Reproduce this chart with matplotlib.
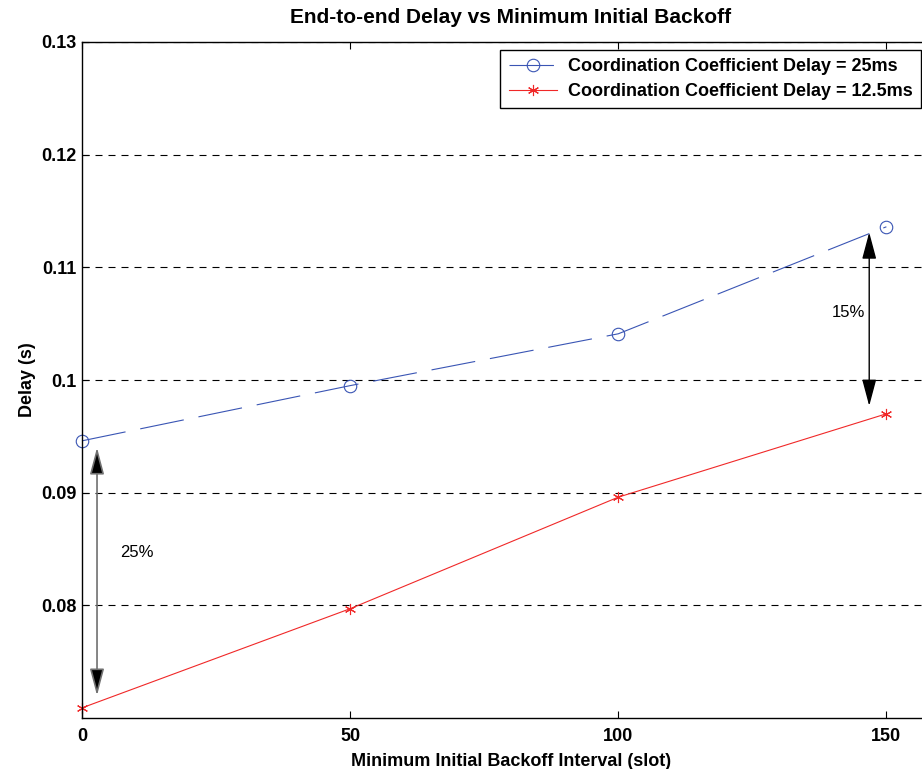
import numpy as np
import matplotlib
matplotlib.use("Agg")
from matplotlib import pyplot as plt

plt.rcParams['font.family'] = ['Liberation Sans', 'DejaVu Sans']

# data
backoff = [0, 50, 100, 150]
delay_25 = [0.0946, 0.0995, 0.1041, 0.1136]
delay_125 = [0.0709, 0.0797, 0.0896, 0.0970]

label_25 = 'Coordination Coefficient Delay = 25ms'
label_125 = 'Coordination Coefficient Delay = 12.5ms'

fig = plt.figure(figsize=(9.22, 7.69), dpi=100)
# axes runs a bit past the right edge, like the cropped original
ax = fig.add_axes([82/922, 51/769, (940-82)/922, (718-42)/769])

ax.plot(backoff, delay_25, color='#3a55b4', lw=0.8, dashes=(40, 13.5),
        marker='o', ms=9, mfc='none', mec='#3a55b4', mew=0.8,
        clip_on=False, label=label_25)
ax.plot(backoff, delay_125, color='#f02828', lw=0.8,
        marker=(6, 2, 0), ms=8, mec='#f02828', mew=0.8,
        clip_on=False, label=label_125)

ax.set_xlim(0, 160)
ax.set_ylim(0.07, 0.13)
ax.set_xticks([0, 50, 100, 150])
ax.set_yticks([0.08, 0.09, 0.1, 0.11, 0.12, 0.13])
ax.set_yticklabels(['0.08', '0.09', '0.1', '0.11', '0.12', '0.13'])
ax.tick_params(direction='in', top=True, right=True, length=5, width=0.8,
               labelsize=13)
ax.tick_params(axis='x', pad=7)
ax.tick_params(axis='y', pad=4)
for lab in ax.get_xticklabels() + ax.get_yticklabels():
    lab.set_fontweight('bold')
for s in ax.spines.values():
    s.set_linewidth(1.0)

ax.yaxis.grid(True, color='black', lw=0.8, dashes=(6.3, 5.4))
ax.set_axisbelow(True)

ax.set_title('End-to-end Delay vs Minimum Initial Backoff', fontsize=15,
             fontweight='bold', pad=14)
ax.set_xlabel('Minimum Initial Backoff Interval (slot)', fontsize=13,
              fontweight='bold', labelpad=6)
ax.set_ylabel('Delay (s)', fontsize=13, fontweight='bold', labelpad=4)

# difference arrows
ax.annotate('', xy=(2.8, 0.0720), xytext=(2.8, 0.0940),
            arrowprops=dict(arrowstyle='<|-|>,head_length=0.75,head_width=0.2',
                            fc='black', ec='#707070', lw=1.2,
                            mutation_scale=22, shrinkA=0, shrinkB=0))
ax.annotate('', xy=(146.8, 0.0977), xytext=(146.8, 0.1131),
            arrowprops=dict(arrowstyle='<|-|>,head_length=0.75,head_width=0.2',
                            color='black', lw=1.0,
                            mutation_scale=22, shrinkA=0, shrinkB=0))
ax.text(10.3, 0.0847, '25%', fontsize=12, ha='center', va='center')
ax.text(142.9, 0.10595, '15%', fontsize=12, ha='center', va='center')

leg = ax.legend(loc='upper right', bbox_to_anchor=(921/922, 1 - 50/769),
                bbox_transform=fig.transFigure, fancybox=False,
                edgecolor='black', framealpha=1, borderaxespad=0,
                prop={'weight': 'bold', 'size': 13}, handlelength=2.7,
                handletextpad=0.6, borderpad=0.45, labelspacing=0.45)
leg.get_frame().set_linewidth(1.0)

fig.savefig('out.png', dpi=100)
